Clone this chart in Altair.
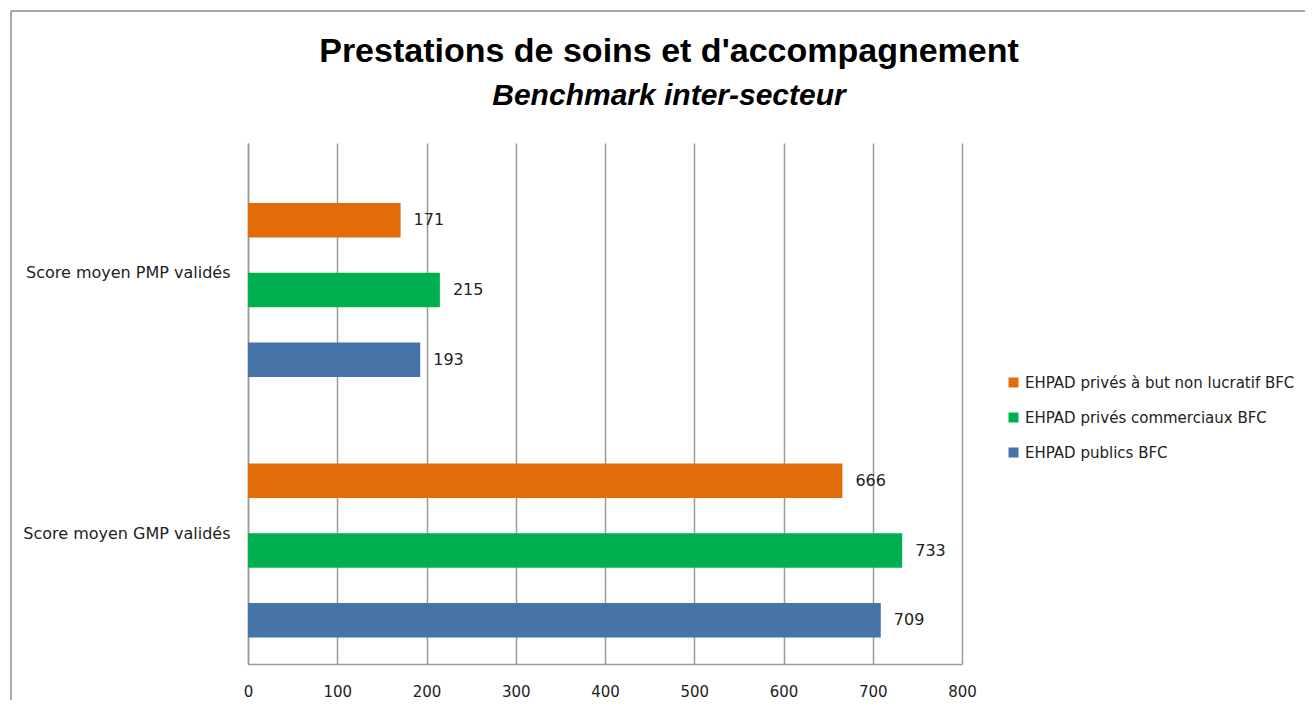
import altair as alt
import pandas as pd

categories = ["Score moyen PMP validés", "Score moyen GMP validés"]
series = [
    "EHPAD privés à but non lucratif BFC",
    "EHPAD privés commerciaux BFC",
    "EHPAD publics BFC",
]
colors = ["#E36C0A", "#00B050", "#4674A8"]
pmp_values = [171, 215, 193]
gmp_values = [666, 733, 709]
x_ticks = [0, 100, 200, 300, 400, 500, 600, 700, 800]

rows = []
for cat, vals in zip(categories, [pmp_values, gmp_values]):
    for s, v in zip(series, vals):
        rows.append({"cat": cat, "series": s, "value": v})
df = pd.DataFrame(rows)

W, H = 714, 521
GRID = "#9a9a9a"
TXT = "#222222"

base = alt.Chart(df).encode(
    y=alt.Y(
        "cat:N",
        sort=categories,
        scale=alt.Scale(domain=categories, paddingInner=0, paddingOuter=0),
        axis=alt.Axis(
            title=None, ticks=False, labelPadding=18, labelFontSize=16,
            labelFont="DejaVu Sans", labelColor=TXT, domainColor=GRID,
            domainWidth=1.5, grid=False, labelLimit=400,
        ),
    ),
    yOffset=alt.YOffset(
        "series:N",
        sort=series,
        scale=alt.Scale(domain=series, paddingInner=0.506, paddingOuter=0.619, align=0.694),
    ),
    x=alt.X(
        "value:Q",
        scale=alt.Scale(domain=[0, 800], nice=False),
        axis=alt.Axis(
            values=x_ticks, title=None, ticks=False, grid=True, gridColor=GRID,
            gridWidth=1.5, domainColor=GRID, domainWidth=1.5, labelFontSize=15,
            labelPadding=20, labelFont="DejaVu Sans", labelColor=TXT,
            labelFlush=False, labelOverlap=False,
        ),
    ),
)

bars = base.mark_bar().encode(
    color=alt.Color(
        "series:N",
        sort=series,
        scale=alt.Scale(domain=series, range=colors),
        legend=alt.Legend(
            title=None, orient="none", legendX=758, legendY=232,
            symbolType="square", symbolSize=100, symbolStrokeWidth=0,
            labelFontSize=15, labelFont="DejaVu Sans", labelColor=TXT,
            rowPadding=19, labelOffset=4, padding=0, labelLimit=400,
        ),
    )
)

labels = base.mark_text(
    align="left", baseline="middle", dx=13, fontSize=16, font="DejaVu Sans", color=TXT
).encode(text="value:Q")

border_df = pd.DataFrame({"a": [0]})
top_border = alt.Chart(border_df).mark_rule(color="#8c8c8c", strokeWidth=1.5).encode(
    x=alt.value(-237), x2=alt.value(1200), y=alt.value(-132)
)
left_border = alt.Chart(border_df).mark_rule(color="#8c8c8c", strokeWidth=1.5).encode(
    x=alt.value(-237), y=alt.value(-132), y2=alt.value(700)
)

chart = alt.layer(top_border, left_border, bars, labels).properties(
    width=W,
    height=H,
    autosize=alt.AutoSizeParams(type="none"),
    padding={"left": 240, "top": 135, "right": 343, "bottom": 36},
    title=alt.TitleParams(
        text="Prestations de soins et d'accompagnement",
        subtitle="Benchmark inter-secteur",
        font="Liberation Sans", fontSize=34, fontWeight="bold", color="black",
        subtitleFont="Liberation Sans", subtitleFontSize=30,
        subtitleFontWeight="bold", subtitleFontStyle="italic", subtitleColor="black",
        anchor="middle", frame="group", dx=64, offset=-101, subtitlePadding=12,
    ),
).configure_view(stroke=None)

chart.save("out.html", embed_options={"renderer": "svg", "actions": False})
